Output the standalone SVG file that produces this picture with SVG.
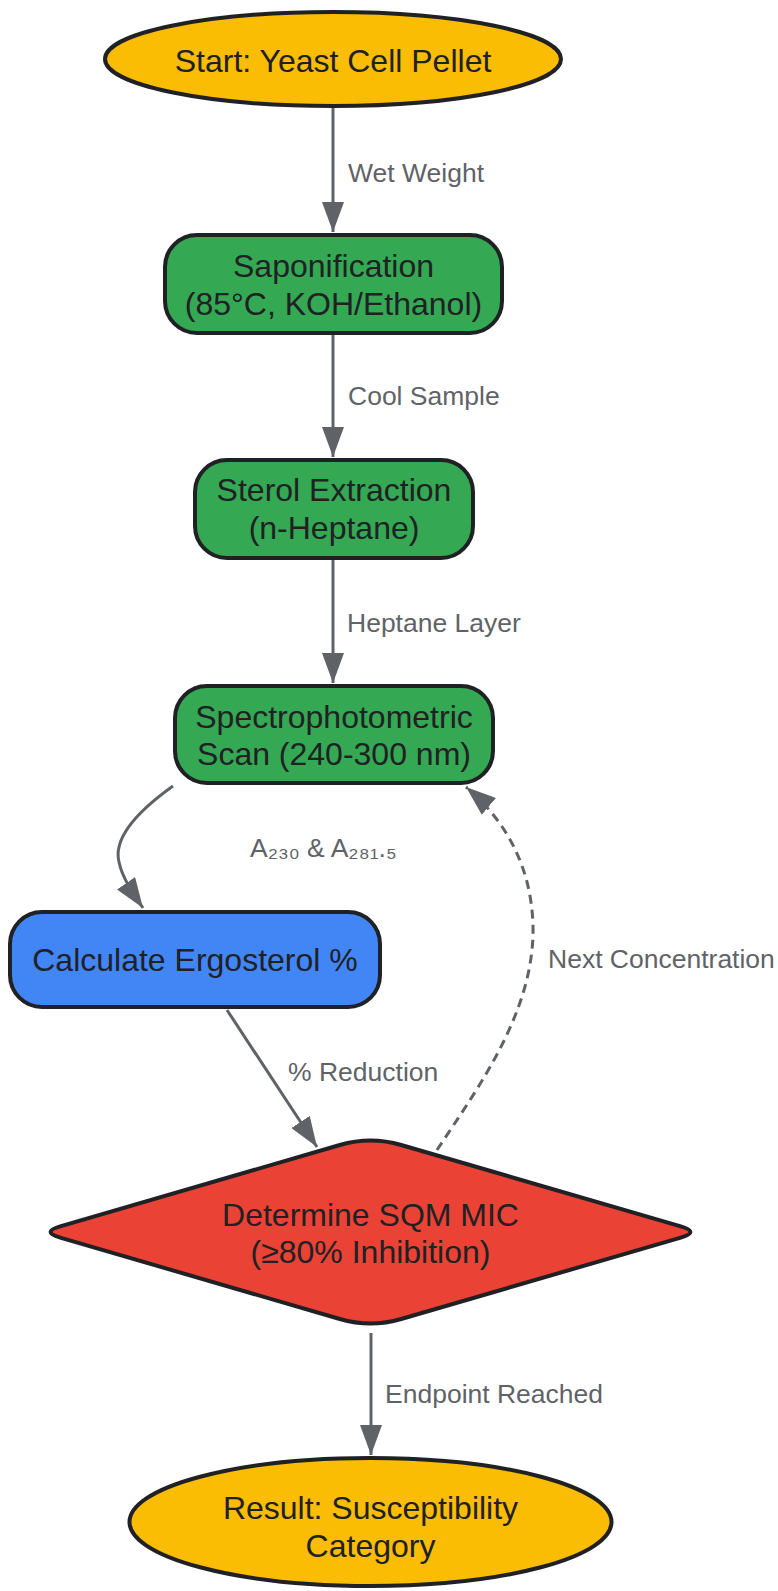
<svg xmlns="http://www.w3.org/2000/svg" width="778" height="1591" viewBox="0 0 778 1591">
<style>
.node{stroke:#202124;stroke-width:4}
.t{font-family:"Liberation Sans",Arial,sans-serif;font-size:32px;fill:#202124;text-anchor:middle}
.lbl{font-family:"Liberation Sans","DejaVu Sans",Arial,sans-serif;font-size:26.5px;fill:#5f6368}
.edge{fill:none;stroke:#5f6368;stroke-width:3}
</style>
<defs>
<marker id="arr" viewBox="0 0 30 22" refX="30" refY="11" markerWidth="30" markerHeight="22" markerUnits="userSpaceOnUse" orient="auto">
<path d="M0,0 L30,11 L0,22 z" fill="#5f6368"/>
</marker>
</defs>
<g id="connectors">
<path class="edge" d="M333,108 L333,232" marker-end="url(#arr)"/>
<path class="edge" d="M333,335 L333,457" marker-end="url(#arr)"/>
<path class="edge" d="M333,560 L333,683" marker-end="url(#arr)"/>
<path class="edge" d="M173,786 C138,811 113,838 119,862 C122,877 132,892 143,908" marker-end="url(#arr)"/>
<path class="edge" d="M227,1010 L317,1147" marker-end="url(#arr)"/>
<path class="edge" stroke-dasharray="9 6" d="M437,1150 C480,1085 535,1010 533,925 C531,865 505,820 466,787" marker-end="url(#arr)"/>
<path class="edge" d="M371,1333 L371,1455" marker-end="url(#arr)"/>
<text class="lbl" x="348" y="182">Wet Weight</text>
<text class="lbl" x="348" y="405">Cool Sample</text>
<text class="lbl" x="347" y="632">Heptane Layer</text>
<text class="lbl" x="250" y="857">A₂₃₀ &amp; A₂₈₁.₅</text>
<text class="lbl" x="548" y="968">Next Concentration</text>
<text class="lbl" x="288" y="1081">% Reduction</text>
<text class="lbl" x="385" y="1403">Endpoint Reached</text>
</g>
<g id="start">
<ellipse class="node" cx="333" cy="59" rx="228" ry="47" fill="#FBBC04"/>
<text class="t" x="333" y="72">Start: Yeast Cell Pellet</text>
</g>
<g id="saponification">
<rect class="node" x="165" y="235" width="337" height="98" rx="32" fill="#34A853"/>
<text class="t" x="333.5" y="277">Saponification</text>
<text class="t" x="333.5" y="315">(85°C, KOH/Ethanol)</text>
</g>
<g id="extraction">
<rect class="node" x="195" y="460" width="278" height="98" rx="32" fill="#34A853"/>
<text class="t" x="334" y="501">Sterol Extraction</text>
<text class="t" x="334" y="539">(n-Heptane)</text>
</g>
<g id="scan">
<rect class="node" x="175" y="686" width="318" height="97" rx="32" fill="#34A853"/>
<text class="t" x="334" y="728">Spectrophotometric</text>
<text class="t" x="334" y="765">Scan (240-300 nm)</text>
</g>
<g id="calculate">
<rect class="node" x="10" y="912" width="370" height="95" rx="32" fill="#4285F4"/>
<text class="t" x="195" y="971">Calculate Ergosterol %</text>
</g>
<g id="mic">
<path class="node" fill="#EA4335" d="M339.8,1145 Q370.5,1136 401.2,1145 L680.8,1226.4 Q700,1232 680.8,1237.6 L401.2,1319 Q370.5,1328 339.8,1319 L60.2,1237.6 Q41,1232 60.2,1226.4 Z"/>
<text class="t" x="370.5" y="1226">Determine SQM MIC</text>
<text class="t" x="370.5" y="1263">(≥80% Inhibition)</text>
</g>
<g id="result">
<ellipse class="node" cx="370.5" cy="1522" rx="241" ry="64" fill="#FBBC04"/>
<text class="t" x="370.5" y="1519">Result: Susceptibility</text>
<text class="t" x="370.5" y="1557">Category</text>
</g>
</svg>
